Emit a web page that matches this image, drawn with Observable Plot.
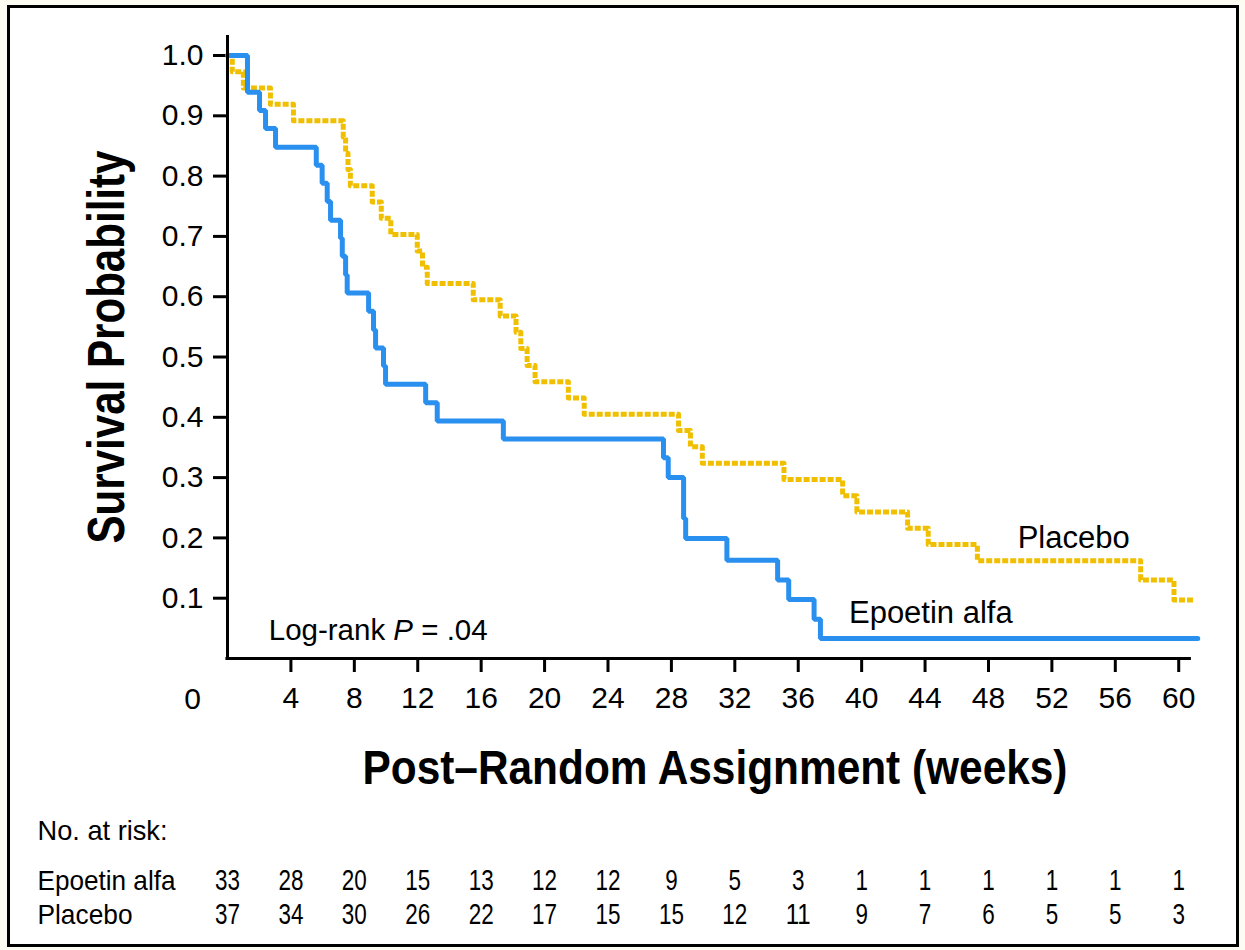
<!DOCTYPE html>
<html><head><meta charset="utf-8">
<script src="https://cdn.jsdelivr.net/npm/d3@7"></script>
<script src="https://cdn.jsdelivr.net/npm/@observablehq/plot@0.6"></script>
<style>
html,body{margin:0;padding:0;background:#fdfcf3;width:1245px;height:950px;overflow:hidden;}
#frame{position:absolute;left:7px;top:5px;width:1232px;height:942px;border:3px solid #000;background:#fff;box-sizing:border-box;}
#chart{position:absolute;left:0;top:0;}
</style></head><body>
<div id="frame"></div><div id="chart"></div>
<script>
// Kaplan-Meier step data (weeks, survival probability)
const epoTime = [0, 1.26, 2.02, 2.4, 3.03, 5.6, 5.97, 6.29, 6.5, 7.13, 7.24, 7.45, 7.55, 8.9, 9.21, 9.34, 9.84, 9.97, 12.5, 13.23, 17.4, 27.5, 27.8, 28.77, 28.9, 31.5, 34.7, 35.4, 37.0, 37.4, 61.2];
const epoSurv = [1, 0.939, 0.909, 0.879, 0.848, 0.818, 0.788, 0.758, 0.727, 0.697, 0.667, 0.636, 0.606, 0.576, 0.545, 0.515, 0.485, 0.455, 0.424, 0.394, 0.364, 0.333, 0.300, 0.232, 0.199, 0.163, 0.130, 0.098, 0.065, 0.033, 0.033];
const plaTime = [0, 0.3, 1.0, 2.71, 4.16, 7.3, 7.45, 7.6, 7.75, 9.13, 9.7, 10.3, 11.97, 12.3, 12.6, 15.5, 17.2, 18.2, 18.5, 18.9, 19.4, 21.5, 22.5, 28.45, 29.2, 29.95, 35.1, 38.8, 39.7, 42.9, 44.2, 47.3, 57.6, 59.7, 60.9];
const plaSurv = [1, 0.973, 0.946, 0.919, 0.892, 0.865, 0.838, 0.811, 0.784, 0.757, 0.730, 0.703, 0.676, 0.649, 0.622, 0.595, 0.568, 0.541, 0.514, 0.486, 0.459, 0.432, 0.405, 0.378, 0.351, 0.324, 0.297, 0.270, 0.243, 0.216, 0.189, 0.162, 0.130, 0.097, 0.097];

const xTicks = [4, 8, 12, 16, 20, 24, 28, 32, 36, 40, 44, 48, 52, 56, 60];
const yTicks = [0.1, 0.2, 0.3, 0.4, 0.5, 0.6, 0.7, 0.8, 0.9, 1.0];

const riskWeeks = [0, 4, 8, 12, 16, 20, 24, 28, 32, 36, 40, 44, 48, 52, 56, 60];
const riskEpo = [33, 28, 20, 15, 13, 12, 12, 9, 5, 3, 1, 1, 1, 1, 1, 1];
const riskPla = [37, 34, 30, 26, 22, 17, 15, 15, 12, 11, 9, 7, 6, 5, 5, 3];

const seriesNames = ["Epoetin alfa", "Placebo"];

const epo = epoTime.map((t, i) => ({t, s: epoSurv[i]}));
const pla = plaTime.map((t, i) => ({t, s: plaSurv[i]}));
const rE = riskWeeks.map((w, i) => ({w, n: riskEpo[i]}));
const rP = riskWeeks.map((w, i) => ({w, n: riskPla[i]}));

const sans = "'Liberation Sans', Arial, Helvetica, sans-serif";

const chart = Plot.plot({
  width: 1245, height: 950,
  marginLeft: 227, marginRight: 43, marginTop: 35, marginBottom: 292,
  x: {domain: [0, 61.5]},
  y: {domain: [0, 1.0332]},
  style: {background: "transparent", fontFamily: sans, color: "#000", overflow: "visible"},
  marks: [
    Plot.axisX(xTicks, {tickSize: 14, strokeWidth: 3, tickPadding: 14, fontSize: 30, label: null}),
    Plot.axisY(yTicks, {tickSize: 14, strokeWidth: 3, tickPadding: 10, fontSize: 30, tickFormat: d3.format(".1f"), label: null}),
    Plot.text([0], {x: d => d, text: d => String(d), frameAnchor: "bottom", dy: 41, dx: -35, lineAnchor: "middle", fontSize: 30}),
    Plot.line(pla, {x: "t", y: "s", curve: "step-after", stroke: "#f0c000", strokeWidth: 5, strokeDasharray: "6,2", strokeLinecap: "butt"}),
    Plot.line(epo, {x: "t", y: "s", curve: "step-after", stroke: "#2a90ef", strokeWidth: 5, strokeLinejoin: "miter"}),
    Plot.ruleX([0], {y1: 0, y2: 1.0332, strokeWidth: 3}),
    Plot.ruleY([0], {x1: -0.1, x2: 60.8, strokeWidth: 3}),
    Plot.text([{x: 49.84, y: 0.199, label: seriesNames[1]}], {x: "x", y: "y", text: "label", textAnchor: "start", lineAnchor: "middle", fontSize: 31}),
    Plot.text([{x: 39.2, y: 0.075, label: seriesNames[0]}], {x: "x", y: "y", text: "label", textAnchor: "start", lineAnchor: "middle", fontSize: 31}),
    Plot.text([{x: 2.6, y: 0.046, label: "Log-rank P = .04"}], {x: "x", y: "y", text: "label", textAnchor: "start", lineAnchor: "middle", fontSize: 29.5}),
    Plot.text(["Survival Probability"], {frameAnchor: "left", rotate: -90, dx: -104, dy: 0, textAnchor: "middle", lineAnchor: "bottom", fontSize: 52, fontWeight: "bold"}),
    Plot.text(["Post–Random Assignment (weeks)"], {frameAnchor: "bottom", dy: 125, lineAnchor: "bottom", fontSize: 49, fontWeight: "bold"}),
    Plot.text(["No. at risk:"], {frameAnchor: "bottom-left", dx: -190, dy: 181, lineAnchor: "bottom", fontSize: 28}),
    Plot.text([seriesNames[0]], {frameAnchor: "bottom-left", dx: -190, dy: 231, lineAnchor: "bottom", fontSize: 28}),
    Plot.text([seriesNames[1]], {frameAnchor: "bottom-left", dx: -190, dy: 265, lineAnchor: "bottom", fontSize: 28}),
    Plot.text(rE, {x: "w", text: d => String(d.n), frameAnchor: "bottom", dy: 231, lineAnchor: "bottom", fontSize: 29}),
    Plot.text(rP, {x: "w", text: d => String(d.n), frameAnchor: "bottom", dy: 265, lineAnchor: "bottom", fontSize: 29})
  ]
});
document.getElementById("chart").appendChild(chart);

// post-processing: italic P, condensed title and table lettering
const rowWidths = {"No. at risk:": 130, "Epoetin alfa": 138, "Placebo": 95};
chart.querySelectorAll("text").forEach(t => {
  const s = t.textContent;
  const g = t.closest("g");
  const fs = g ? g.getAttribute("font-size") : null;
  if (s === "Log-rank P = .04") {
    t.innerHTML = 'Log-rank <tspan font-style="italic">P</tspan> = .04';
  } else if (s === "Survival Probability") {
    t.setAttribute("textLength", 393); t.setAttribute("lengthAdjust", "spacingAndGlyphs");
  } else if (s === "Post–Random Assignment (weeks)") {
    t.setAttribute("textLength", 705); t.setAttribute("lengthAdjust", "spacingAndGlyphs");
  } else if (fs === "28" && rowWidths[s]) {
    t.setAttribute("textLength", rowWidths[s]); t.setAttribute("lengthAdjust", "spacingAndGlyphs");
  } else if (fs === "29") {
    t.setAttribute("textLength", 12.5 * s.length); t.setAttribute("lengthAdjust", "spacingAndGlyphs");
  }
});
</script></body></html>
